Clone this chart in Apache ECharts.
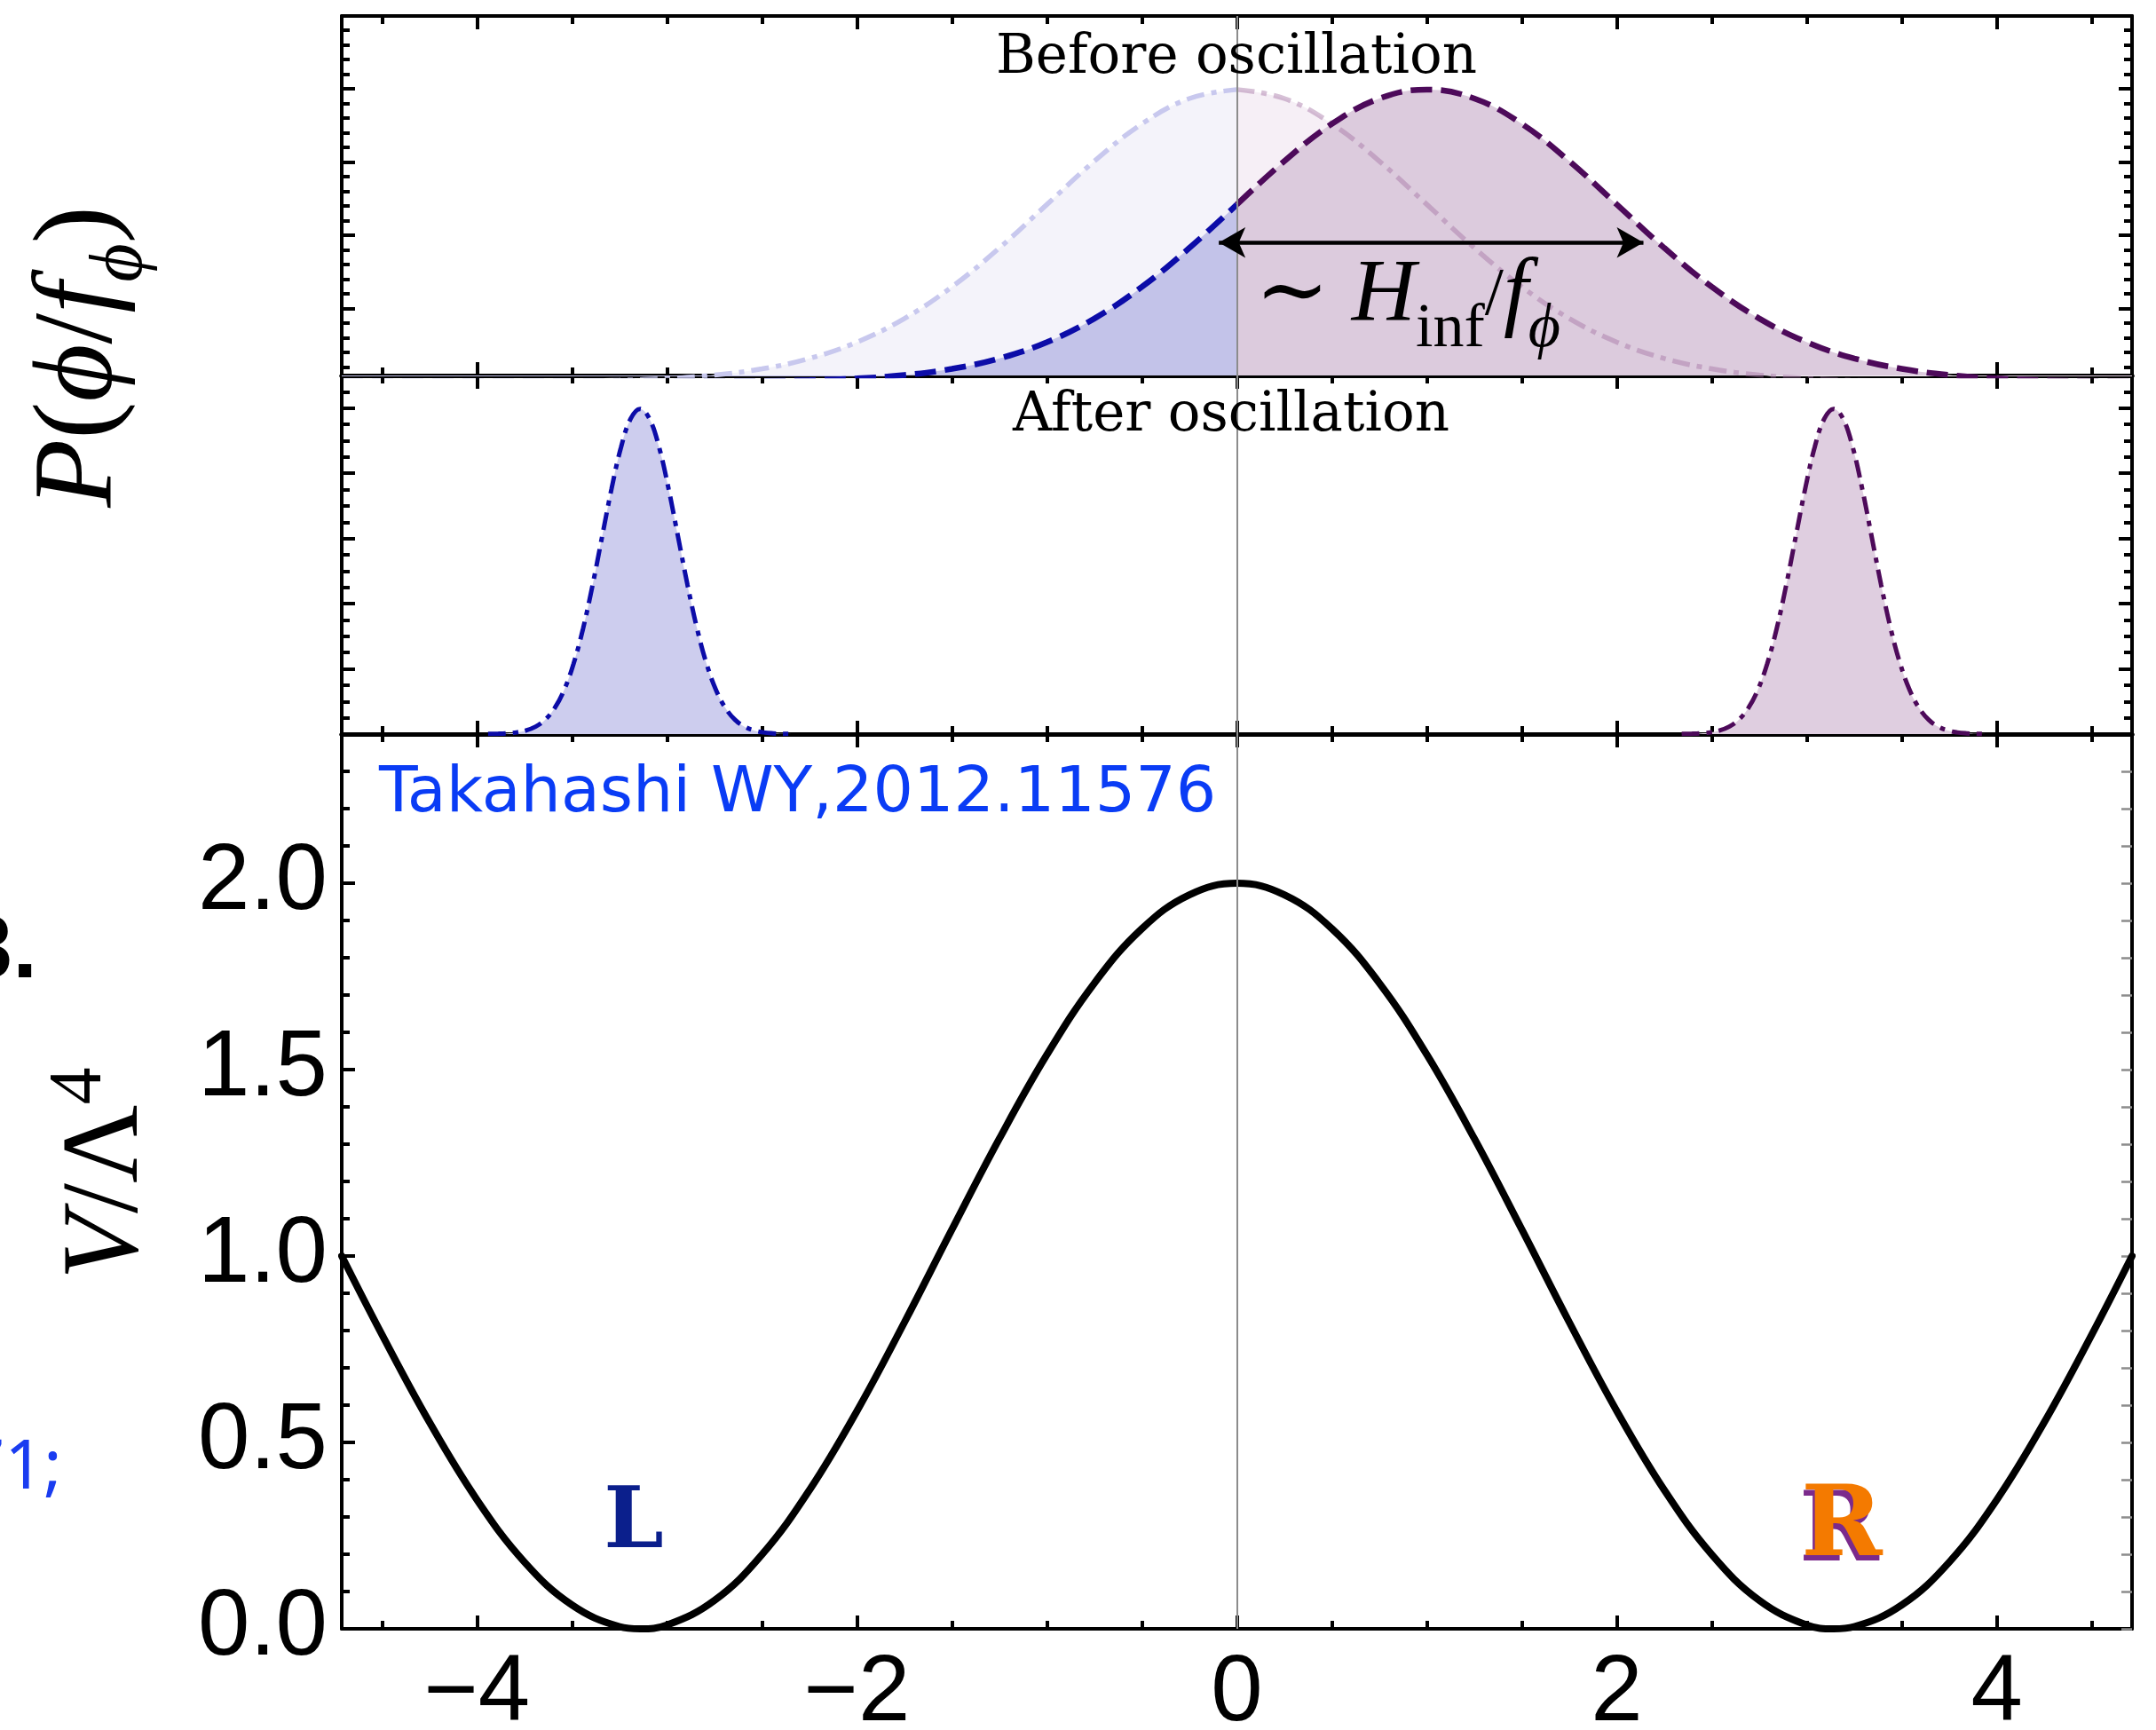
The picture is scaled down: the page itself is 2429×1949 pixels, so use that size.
<!DOCTYPE html>
<html>
<head>
<meta charset="utf-8">
<script src="https://cdn.jsdelivr.net/npm/echarts@6.0.0/dist/echarts.min.js"></script>
<style>
html,body{margin:0;padding:0;background:#ffffff;}
#chart{width:2429px;height:1949px;}
</style>
</head>
<body>
<div id="chart"></div>
<script>
// ---------------- data ----------------
const PHI_MIN = -4.712, PHI_MAX = 4.712;
const X_MAJOR = [-4, -2, 0, 2, 4];
const X_MINOR = [-4.5, -3.5, -3, -2.5, -1.5, -1, -0.5, 0.5, 1, 1.5, 2.5, 3, 3.5, 4.5];
const X_LABELS = ['\u22124', '\u22122', '0', '2', '4'];

// top panel: distribution before oscillation
const P1_MIN = 0.0085, P1_MAX = 0.4994;
const P1_MAJOR = [0.1, 0.2, 0.3, 0.4];
const P1_MINOR = [0.02, 0.04, 0.06, 0.08, 0.12, 0.14, 0.16, 0.18, 0.22, 0.24, 0.26, 0.28, 0.32, 0.34, 0.36, 0.38, 0.42, 0.44, 0.46, 0.48];
const beforePhi = [-4.712, -4.5, -4.25, -4, -3.75, -3.5, -3.25, -3, -2.75, -2.5, -2.25, -2, -1.75, -1.5, -1.25, -1, -0.75, -0.5, -0.25, 0,
  0.25, 0.5, 0.75, 1, 1.25, 1.5, 1.75, 2, 2.25, 2.5, 2.75, 3, 3.25, 3.5, 3.75, 4, 4.25, 4.5, 4.712];
const beforeFaint = [0.00001, 0.00002, 0.00005, 0.00013, 0.00035, 0.00087, 0.00203, 0.00443, 0.00909, 0.01753, 0.03174, 0.05399, 0.08627, 0.12952, 0.18265, 0.24197, 0.30114, 0.35207, 0.38667, 0.39894,
  0.38667, 0.35207, 0.30114, 0.24197, 0.18265, 0.12952, 0.08627, 0.05399, 0.03174, 0.01753, 0.00909, 0.00443, 0.00203, 0.00087, 0.00035, 0.00013, 0.00005, 0.00002, 0.00001];
const beforeShifted = [0, 0, 0, 0, 0.00001, 0.00002, 0.00005, 0.00013, 0.00035, 0.00087, 0.00203, 0.00443, 0.00909, 0.01753, 0.03174, 0.05399, 0.08627, 0.12952, 0.18265, 0.24197,
  0.30114, 0.35207, 0.38667, 0.39894, 0.38667, 0.35207, 0.30114, 0.24197, 0.18265, 0.12952, 0.08627, 0.05399, 0.03174, 0.01753, 0.00909, 0.00443, 0.00203, 0.00087, 0.00041];

// middle panel: distribution after oscillation
const P2_MIN = 0, P2_MAX = 2.2;
const P2_MAJOR = [0.4, 0.8, 1.2, 1.6, 2.0];
const P2_MINOR = [0.1, 0.2, 0.3, 0.5, 0.6, 0.7, 0.9, 1.0, 1.1, 1.3, 1.4, 1.5, 1.7, 1.8, 1.9, 2.1];
const afterCentres = [-3.1416, 3.1416];
const afterOffset = [-0.8, -0.75, -0.7, -0.65, -0.6, -0.55, -0.5, -0.45, -0.4, -0.35, -0.3, -0.25, -0.2, -0.15, -0.1, -0.05, 0,
  0.05, 0.1, 0.15, 0.2, 0.25, 0.3, 0.35, 0.4, 0.45, 0.5, 0.55, 0.6, 0.65, 0.7, 0.75, 0.8];
const afterP = [0.0007, 0.0018, 0.0044, 0.0101, 0.0222, 0.0455, 0.0876, 0.1587, 0.2700, 0.4314, 0.6476, 0.9132, 1.2098, 1.5057, 1.7603, 1.9333, 1.9947,
  1.9333, 1.7603, 1.5057, 1.2098, 0.9132, 0.6476, 0.4314, 0.2700, 0.1587, 0.0876, 0.0455, 0.0222, 0.0101, 0.0044, 0.0018, 0.0007];

// bottom panel: potential
const V_MIN = 0, V_MAX = 2.4;
const V_MAJOR = [0, 0.5, 1, 1.5, 2];
const V_LABELS = ['0.0', '0.5', '1.0', '1.5', '2.0'];
const V_MINOR = [0.1, 0.2, 0.3, 0.4, 0.6, 0.7, 0.8, 0.9, 1.1, 1.2, 1.3, 1.4, 1.6, 1.7, 1.8, 1.9, 2.1, 2.2, 2.3];
const potPhi = [-4.712, -4.5, -4.25, -4, -3.75, -3.5, -3.25, -3.1416, -3, -2.75, -2.5, -2.25, -2, -1.75, -1.5, -1.25, -1, -0.75, -0.5, -0.25, 0,
  0.25, 0.5, 0.75, 1, 1.25, 1.5, 1.75, 2, 2.25, 2.5, 2.75, 3, 3.1416, 3.25, 3.5, 3.75, 4, 4.25, 4.5, 4.712];
const potV = [1.000, 0.789, 0.554, 0.346, 0.179, 0.064, 0.006, 0.000, 0.010, 0.076, 0.199, 0.372, 0.584, 0.822, 1.071, 1.315, 1.540, 1.732, 1.878, 1.969, 2.000,
  1.969, 1.878, 1.732, 1.540, 1.315, 1.071, 0.822, 0.584, 0.372, 0.199, 0.076, 0.010, 0.000, 0.006, 0.064, 0.179, 0.346, 0.554, 0.789, 1.000];

// arrow annotation (data coords of top panel)
const ARROW_X = [-0.095, 2.14];
const ARROW_P = 0.19;

// ---------------- build ----------------
const zip = (xs, ys) => xs.map((x, i) => [x, ys[i]]);
const leftOf = a => a.filter(p => p[0] <= 0);
const rightOf = a => a.filter(p => p[0] >= 0);
const faint = zip(beforePhi, beforeFaint);
const shifted = zip(beforePhi, beforeShifted);
const afterL = afterOffset.map((d, i) => [afterCentres[0] + d, afterP[i]]);
const afterR = afterOffset.map((d, i) => [afterCentres[1] + d, afterP[i]]);
const potential = zip(potPhi, potV);

const GL = 385, GW = 2017;
const grids = [
  { left: GL, top: 18, width: GW, height: 405, outerBoundsMode: 'none', containLabel: false },
  { left: GL, top: 423, width: GW, height: 404, outerBoundsMode: 'none', containLabel: false },
  { left: GL, top: 827, width: GW, height: 1008, outerBoundsMode: 'none', containLabel: false }
];
const panelY = [
  { min: P1_MIN, max: P1_MAX, major: P1_MAJOR, minor: P1_MINOR },
  { min: P2_MIN, max: P2_MAX, major: P2_MAJOR, minor: P2_MINOR },
  { min: V_MIN, max: V_MAX, major: V_MAJOR, minor: V_MINOR }
];
const frameW = [[4, 5], [5, 5], [5, 4]]; // [top, bottom]

const xAxes = [], yAxes = [];
function mkX(g, pos, major, lw) {
  const showLab = (g === 2 && pos === 'bottom' && major);
  return {
    type: 'value', gridIndex: g, position: pos, min: PHI_MIN, max: PHI_MAX,
    axisLine: { show: lw > 0, onZero: false, lineStyle: { color: '#000', width: lw } },
    axisTick: { show: true, inside: true, length: major ? 15 : 9, lineStyle: { color: '#000', width: 4 }, customValues: major ? X_MAJOR : X_MINOR },
    axisLabel: showLab ? {
      show: true, customValues: X_MAJOR, margin: 22, fontSize: 105, fontFamily: 'Liberation Sans, Arial, sans-serif', color: '#000',
      formatter: v => X_LABELS[X_MAJOR.findIndex(t => Math.abs(t - v) < 1e-6)]
    } : { show: false },
    splitLine: { show: false }, minorTick: { show: false }
  };
}
function mkY(g, pos, major, lw) {
  const py = panelY[g];
  const showLab = (g === 2 && pos === 'left' && major);
  const gray = (g === 2 && pos === 'right');
  return {
    type: 'value', gridIndex: g, position: pos, min: py.min, max: py.max,
    axisLine: { show: lw > 0, onZero: false, lineStyle: { color: '#000', width: lw } },
    axisTick: {
      show: true, inside: true, length: gray ? 12 : (major ? 15 : 9),
      lineStyle: { color: gray ? '#8c8c8c' : '#000', width: gray ? 2.5 : 4 },
      customValues: major ? py.major : py.minor
    },
    axisLabel: showLab ? {
      show: true, customValues: V_MAJOR, margin: 16, fontSize: 105, fontFamily: 'Liberation Sans, Arial, sans-serif', color: '#000',
      formatter: v => V_LABELS[V_MAJOR.findIndex(t => Math.abs(t - v) < 1e-6)]
    } : { show: false },
    splitLine: { show: false }, minorTick: { show: false }
  };
}
for (let g = 0; g < 3; g++) {
  xAxes.push(mkX(g, 'bottom', true, frameW[g][1]));
  xAxes.push(mkX(g, 'bottom', false, 0));
  xAxes.push(mkX(g, 'top', true, frameW[g][0]));
  xAxes.push(mkX(g, 'top', false, 0));
  yAxes.push(mkY(g, 'left', true, 4));
  yAxes.push(mkY(g, 'left', false, 0));
  yAxes.push(mkY(g, 'right', true, 4));
  yAxes.push(mkY(g, 'right', false, 0));
}

const zeroLine = {
  silent: true, symbol: 'none', label: { show: false }, animation: false,
  lineStyle: { color: '#8c8c8c', width: 2, type: 'solid' }, data: [{ xAxis: 0 }]
};
function ser(g, data, extra) {
  return Object.assign({
    type: 'line', xAxisIndex: 4 * g, yAxisIndex: 4 * g, data: data, symbol: 'none', smooth: 0.4,
    silent: true, animation: false, clip: true, emphasis: { disabled: true }
  }, extra);
}
const DASH = [24, 10];
const DASHDOT = [20, 8, 6, 8];
const series = [
  // top panel fills
  ser(0, leftOf(faint), { z: 1, lineStyle: { opacity: 0 }, areaStyle: { color: '#f4f3fa', opacity: 1 } }),
  ser(0, rightOf(faint), { z: 1, lineStyle: { opacity: 0 }, areaStyle: { color: '#f6eff6', opacity: 1 } }),
  ser(0, leftOf(shifted), { z: 1, lineStyle: { opacity: 0 }, areaStyle: { color: '#c3c3e9', opacity: 1 } }),
  ser(0, rightOf(shifted), { z: 1, lineStyle: { opacity: 0 }, areaStyle: { color: '#dccbdd', opacity: 1 } }),
  // faint lines
  ser(0, leftOf(faint), { z: 2, lineStyle: { color: '#c8c8ee', width: 5.5, type: DASHDOT }, markLine: zeroLine }),
  ser(0, rightOf(faint), { z: 2, lineStyle: { color: 'rgba(165,115,165,0.45)', width: 5.5, type: DASHDOT } }),
  // main lines
  ser(0, leftOf(shifted), { z: 3, lineStyle: { color: '#0c0ca8', width: 6.5, type: DASH } }),
  ser(0, rightOf(shifted), {
    z: 3, lineStyle: { color: '#4d0a5a', width: 6.5, type: DASH },
    markLine: {
      silent: true, animation: false, symbol: ['arrow', 'arrow'], symbolSize: [26, 30], label: { show: false },
      lineStyle: { color: '#000', width: 4.5, type: 'solid' },
      data: [[{ coord: [ARROW_X[0], ARROW_P] }, { coord: [ARROW_X[1], ARROW_P] }]]
    }
  }),
  // middle panel
  ser(1, afterL, { z: 2, lineStyle: { color: '#0c0ca8', width: 5, type: DASHDOT }, areaStyle: { color: '#cdcdee', opacity: 1 }, markLine: zeroLine }),
  ser(1, afterR, { z: 2, lineStyle: { color: '#4d0a5a', width: 5, type: DASHDOT }, areaStyle: { color: '#dfcee0', opacity: 1 } }),
  // bottom panel
  ser(2, potential, { z: 3, lineStyle: { color: '#000', width: 8, cap: 'round', join: 'round' }, markLine: zeroLine })
];

const SERIF = "'Liberation Serif', 'Times New Roman', 'DejaVu Serif', serif";
const SLAB = "'DejaVu Serif', serif";
const graphics = [
  { type: 'text', x: 1393, y: 66, z: 50, style: { text: 'Before oscillation', fontFamily: SLAB, fontSize: 61, fill: '#000', align: 'center', verticalAlign: 'middle' } },
  { type: 'text', x: 1387, y: 469, z: 50, style: { text: 'After oscillation', fontFamily: SLAB, fontSize: 61, fill: '#000', align: 'center', verticalAlign: 'middle' } },
  {
    type: 'text', x: 1414, y: 334, z: 50,
    style: {
      text: '{u|\u223C }{i|H}{s|inf}{sl|/}{i|f}{si|\u03D5}', align: 'left', verticalAlign: 'middle', fill: '#000',
      rich: {
        u: { fontFamily: SERIF, fontSize: 100, lineHeight: 104, fill: '#000' },
        i: { fontFamily: SERIF, fontStyle: 'italic', fontSize: 100, lineHeight: 104, fill: '#000' },
        sl: { fontFamily: SERIF, fontSize: 76, lineHeight: 104, fill: '#000' },
        s: { fontFamily: SERIF, fontSize: 70, height: 28, lineHeight: 28, verticalAlign: 'bottom', fill: '#000' },
        si: { fontFamily: SERIF, fontStyle: 'italic', fontSize: 70, height: 28, lineHeight: 28, verticalAlign: 'bottom', fill: '#000' }
      }
    }
  },
  {
    type: 'text', x: 92, y: 402, rotation: Math.PI / 2, z: 50,
    style: {
      text: '{i|P}{u|(}{i|\u03D5}{u|/}{i|f}{s|\u03D5}{u|)}', align: 'center', verticalAlign: 'middle', fill: '#000',
      rich: {
        u: { fontFamily: SERIF, fontSize: 126, lineHeight: 116, fill: '#000' },
        i: { fontFamily: SERIF, fontStyle: 'italic', fontSize: 126, lineHeight: 116, fill: '#000' },
        s: { fontFamily: SERIF, fontStyle: 'italic', fontSize: 84, height: 26, lineHeight: 26, verticalAlign: 'bottom', fill: '#000' }
      }
    }
  },
  {
    type: 'text', x: 122, y: 1322, rotation: Math.PI / 2, z: 50,
    style: {
      text: '{i|V}{u|/\u039B}{p|4}', align: 'center', verticalAlign: 'middle', fill: '#000',
      rich: {
        u: { fontFamily: SERIF, fontSize: 122, lineHeight: 112, fill: '#000' },
        i: { fontFamily: SERIF, fontStyle: 'italic', fontSize: 122, lineHeight: 112, fill: '#000' },
        p: { fontFamily: SERIF, fontSize: 84, height: 50, lineHeight: 50, verticalAlign: 'top', fill: '#000' }
      }
    }
  },
  { type: 'text', x: 427, y: 895, z: 50, style: { text: 'Takahashi WY,2012.11576', fontFamily: "'DejaVu Sans', sans-serif", fontSize: 71.5, fill: '#0a3cf5', align: 'left', verticalAlign: 'middle' } },
  { type: 'text', x: 714, y: 1718, z: 50, style: { text: 'L', fontFamily: SLAB, fontWeight: 'bold', fontSize: 96, fill: '#0b1f8c', align: 'center', verticalAlign: 'middle' } },
  { type: 'text', x: 2072, y: 1730, z: 50, style: { text: 'R', fontFamily: SLAB, fontWeight: 'bold', fontSize: 108, fill: '#7b2a8c', align: 'center', verticalAlign: 'middle' } },
  { type: 'text', x: 2075, y: 1723, z: 51, style: { text: 'R', fontFamily: SLAB, fontWeight: 'bold', fontSize: 110, fill: '#f47a00', align: 'center', verticalAlign: 'middle' } },
  { type: 'text', x: 42, y: 1073, z: 50, style: { text: '3.', fontFamily: "'Liberation Sans', sans-serif", fontWeight: 'bold', fontSize: 100, fill: '#000', align: 'right', verticalAlign: 'middle' } },
  { type: 'text', x: 70, y: 1655, z: 50, style: { text: '71;', fontFamily: "'Noto Sans', sans-serif", fontSize: 77, fill: '#1a3cf0', align: 'right', verticalAlign: 'middle' } }
];

const chart = echarts.init(document.getElementById('chart'), null, { renderer: 'canvas' });
chart.setOption({
  backgroundColor: '#ffffff',
  animation: false,
  grid: grids,
  xAxis: xAxes,
  yAxis: yAxes,
  series: series,
  graphic: graphics
});
</script>
</body>
</html>
